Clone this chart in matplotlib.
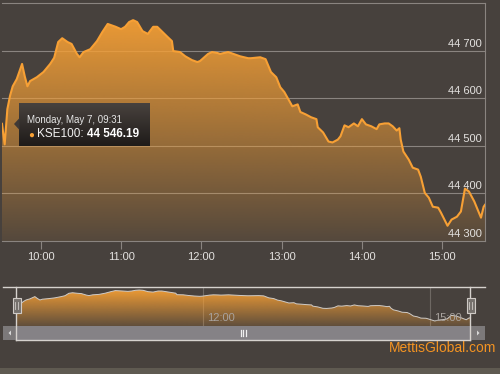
#!/usr/bin/env python3
# KSE100 intraday chart (Highstock style look) -> out.png

import numpy as np
import matplotlib
matplotlib.use("Agg")
import matplotlib.pyplot as plt
from matplotlib.patches import Polygon, Rectangle
from matplotlib.lines import Line2D

W, H = 500, 374

plt.rcParams.update({
    "font.family": ["Liberation Sans", "DejaVu Sans"],
    "font.size": 8,
    "figure.dpi": 100,
    "savefig.dpi": 100,
})

BG = "#47413d"
ORANGE = "#f7a035"
GRID = "#8a8480"
TEXT = "#e4e2e0"

# ----------------------------
# Data
# ----------------------------
times = [
    "09:31", "09:33", "09:35", "09:37", "09:39", "09:42", "09:46", "09:48", "09:50", "09:52",
    "09:57", "10:02", "10:07", "10:10", "10:13", "10:16", "10:20", "10:23", "10:27", "10:29",
    "10:32", "10:37", "10:42", "10:46", "10:50", "10:52", "10:56", "11:00", "11:03", "11:06",
    "11:09", "11:12", "11:16", "11:20", "11:24", "11:27", "11:31", "11:35", "11:38", "11:39",
    "11:44", "11:48", "11:53", "11:57", "11:59", "12:05", "12:08", "12:12", "12:14", "12:20",
    "12:24", "12:29", "12:35", "12:37", "12:44", "12:48", "12:52", "12:56", "12:59", "13:02",
    "13:05", "13:08", "13:12", "13:14", "13:18", "13:22", "13:26", "13:27", "13:31", "13:35",
    "13:38", "13:42", "13:44", "13:47", "13:50", "13:54", "13:57", "14:00", "14:03", "14:07",
    "14:11", "14:13", "14:17", "14:20", "14:23", "14:26", "14:28", "14:29", "14:31", "14:35",
    "14:38", "14:42", "14:44", "14:47", "14:50", "14:53", "14:57", "14:59", "15:04", "15:07",
    "15:11", "15:14", "15:17", "15:20", "15:24", "15:29", "15:31", "15:32",
]
kse100 = [
    44546.19, 44503, 44577, 44605, 44625, 44640, 44672, 44646, 44625, 44636,
    44644, 44655, 44672, 44685, 44718, 44726, 44718, 44714, 44693, 44686,
    44697, 44703, 44720, 44739, 44756, 44754, 44750, 44745, 44750, 44760,
    44764, 44760, 44741, 44735, 44750, 44750, 44739, 44728, 44720, 44699,
    44697, 44688, 44680, 44676, 44678, 44693, 44697, 44695, 44693, 44697,
    44693, 44688, 44684, 44684, 44686, 44682, 44655, 44644, 44623, 44613,
    44598, 44583, 44587, 44571, 44566, 44560, 44556, 44539, 44528, 44509,
    44507, 44513, 44520, 44543, 44539, 44547, 44541, 44556, 44545, 44541,
    44535, 44545, 44547, 44547, 44541, 44532, 44537, 44513, 44488, 44471,
    44454, 44450, 44435, 44401, 44391, 44372, 44370, 44360, 44332, 44345,
    44351, 44362, 44410, 44404, 44383, 44349, 44372, 44376,
]

x_ticks = ["10:00", "11:00", "12:00", "13:00", "14:00", "15:00"]
nav_ticks = ["12:00", "15:00"]
y_ticks = [44300, 44400, 44500, 44600, 44700, 44800]

TOOLTIP_DATE = "Monday, May 7, 09:31"
TOOLTIP_NAME = "KSE100"
TOOLTIP_VALUE = "44 546.19"

XLIM = (571, 932)
YLIM = (44300, 44800)
NAV_YLIM = (44262, 44806)


def to_minutes(labels):
    return np.array([int(s[:2]) * 60 + int(s[3:]) for s in labels], dtype=float)


def rect(x0, y0, x1, y1):
    '''pixel box (top-left origin) -> figure fraction [l, b, w, h]'''
    return [x0 / W, 1 - y1 / H, (x1 - x0) / W, (y1 - y0) / H]


def fpt(x, y):
    return (x / W, 1 - y / H)


def gradient_fill(ax, x, y, ylim, top_alpha=1.0, bot_alpha=0.08):
    n = 256
    grad = np.zeros((n, 1, 4))
    grad[:, 0, :3] = matplotlib.colors.to_rgb(ORANGE)
    grad[:, 0, 3] = np.linspace(bot_alpha, top_alpha, n)
    im = ax.imshow(grad, extent=(XLIM[0], XLIM[1], ylim[0], ylim[1]),
                   origin="lower", aspect="auto", zorder=1, interpolation="bilinear")
    verts = [(x[0], ylim[0])] + list(zip(x, y)) + [(x[-1], ylim[0])]
    clip = Polygon(verts, closed=True, transform=ax.transData,
                   facecolor="none", edgecolor="none")
    ax.add_patch(clip)
    im.set_clip_path(clip)


def main():
    t = to_minutes(times)
    v = np.array(kse100)

    fig = plt.figure(figsize=(W / 100, H / 100), facecolor=BG)

    # ---- main chart ----
    ax = fig.add_axes(rect(2, 3, 485, 241))
    ax.set_facecolor(BG)
    ax.set_xlim(*XLIM)
    ax.set_ylim(*YLIM)
    for s in ["top", "left"]:
        ax.spines[s].set_visible(False)
    for s in ["bottom", "right"]:
        ax.spines[s].set_color(GRID)
        ax.spines[s].set_linewidth(0.8)

    for yv in y_ticks[1:]:
        ax.axhline(yv, color=GRID, lw=0.8, zorder=0.5, clip_on=False)

    gradient_fill(ax, t, v, YLIM)
    ax.plot(t, v, color=ORANGE, lw=1.5, zorder=3, solid_joinstyle="round")

    ax.set_yticks([])
    ax.set_xticks(to_minutes(x_ticks))
    ax.set_xticklabels(x_ticks, color=TEXT, fontsize=8)
    ax.tick_params(axis="x", length=6, width=0.8, color=GRID, pad=2)

    for yv in y_ticks[:-1]:
        lab = f"{yv:,}".replace(",", " ")
        ax.annotate(lab, xy=(1, yv), xycoords=("axes fraction", "data"),
                    xytext=(-3, 2), textcoords="offset pixels",
                    ha="right", va="bottom", color=TEXT, fontsize=8, zorder=4)

    # ---- navigator ----
    fig.add_artist(Rectangle(fpt(3, 340), 482 / W, 14 / H, transform=fig.transFigure,
                             facecolor="#7c797a", edgecolor="none"))
    fig.add_artist(Rectangle(fpt(16, 340), 454 / W, 14 / H, transform=fig.transFigure,
                             facecolor="#858286", edgecolor="none"))

    nav = fig.add_axes(rect(16, 287, 470, 326))
    nav.set_facecolor("#57514c")
    nav.set_xlim(*XLIM)
    nav.set_ylim(*NAV_YLIM)
    nav.axis("off")
    for lab in nav_ticks:
        m = to_minutes([lab])[0]
        nav.axvline(m, color="#6e6863", lw=0.8, zorder=0.5)
        nav.annotate(lab, xy=(m, 0.2), xycoords=("data", "axes fraction"),
                     xytext=(4, 0), textcoords="offset pixels",
                     ha="left", va="center", color="#a9a39e", fontsize=8, zorder=4)
    gradient_fill(nav, t, v, NAV_YLIM, bot_alpha=0.15)
    nav.plot(t, v, color="#cfcbc7", lw=0.7, zorder=3)

    outline = dict(color="#d6d2ce", lw=1.0, transform=fig.transFigure, zorder=6)
    for (x0, y0), (x1, y1) in [((3, 287), (485, 287)), ((16, 287), (16, 340)),
                               ((470, 287), (470, 340)), ((16, 340), (470, 340))]:
        fig.add_artist(Line2D([x0 / W, x1 / W], [1 - y0 / H, 1 - y1 / H], **outline))

    # handles
    for cx in (16.5, 470.5):
        fig.add_artist(Rectangle(fpt(cx - 4, 313), 8 / W, 15 / H, transform=fig.transFigure,
                                 facecolor="#76716d", edgecolor="#cfcac6", lw=0.8, zorder=7))
        for dx in (-1.2, 1.2):
            fig.add_artist(Line2D([(cx + dx) / W] * 2, [1 - 302 / H, 1 - 309 / H],
                                  color="#cfcac6", lw=0.6, transform=fig.transFigure, zorder=8))

    # scrollbar grip and arrows
    for dx in (-2.5, 0, 2.5):
        fig.add_artist(Line2D([(243 + dx) / W] * 2, [1 - 330 / H, 1 - 336 / H],
                              color="#f0f0f0", lw=0.9, transform=fig.transFigure, zorder=7))
    fig.add_artist(Polygon([fpt(11, 330.5), fpt(11, 335.5), fpt(8.5, 333)], closed=True,
                           transform=fig.transFigure, facecolor="#d8d8d8", edgecolor="none"))
    fig.add_artist(Polygon([fpt(477, 330.5), fpt(477, 335.5), fpt(479.5, 333)], closed=True,
                           transform=fig.transFigure, facecolor="#d8d8d8", edgecolor="none"))

    # credit + bottom strip
    fig.text(496 / W, 1 - 348 / H, "MettisGlobal.com", ha="right", va="center",
             color="#f39322", fontsize=10)
    fig.add_artist(Rectangle((0, 0), 1, 6 / H, transform=fig.transFigure,
                             facecolor="#5f5a51", edgecolor="none"))

    # ---- tooltip ----
    tip = fig.add_axes(rect(19, 103, 150, 146))
    tip.set_zorder(10)
    grad = np.linspace(0, 1, 64)[:, None, None]
    top_c = np.array(matplotlib.colors.to_rgb("#48423e"))
    bot_c = np.array(matplotlib.colors.to_rgb("#1f1b19"))
    img = top_c * (1 - grad) + bot_c * grad
    tip.imshow(img, aspect="auto", extent=(0, 1, 0, 1), interpolation="bilinear")
    tip.set_xlim(0, 1)
    tip.set_ylim(0, 1)
    tip.axis("off")
    fig.add_artist(Polygon([fpt(19.5, 118), fpt(14, 124), fpt(19.5, 130)], closed=True,
                           transform=fig.transFigure, facecolor="#3f3936",
                           edgecolor="none", zorder=11))

    fig.text(27 / W, 1 - 120 / H, TOOLTIP_DATE, ha="left", va="center",
             color="#e6e6e6", fontsize=7, zorder=12)
    fig.text(31 / W, 1 - 134.5 / H, "\u25cf", ha="center", va="center",
             color=ORANGE, fontsize=7, zorder=12)
    name = fig.text(37 / W, 1 - 134 / H, f"{TOOLTIP_NAME}: ", ha="left", va="center",
                    color="#f2f2f2", fontsize=8.5, zorder=12)
    tip.annotate(TOOLTIP_VALUE, xy=(1, 0), xycoords=name, ha="left", va="bottom",
                 color="#ffffff", fontsize=8.5, fontweight="bold", annotation_clip=False)

    fig.savefig("out.png", dpi=100, facecolor=BG)
    plt.close(fig)


if __name__ == "__main__":
    main()
